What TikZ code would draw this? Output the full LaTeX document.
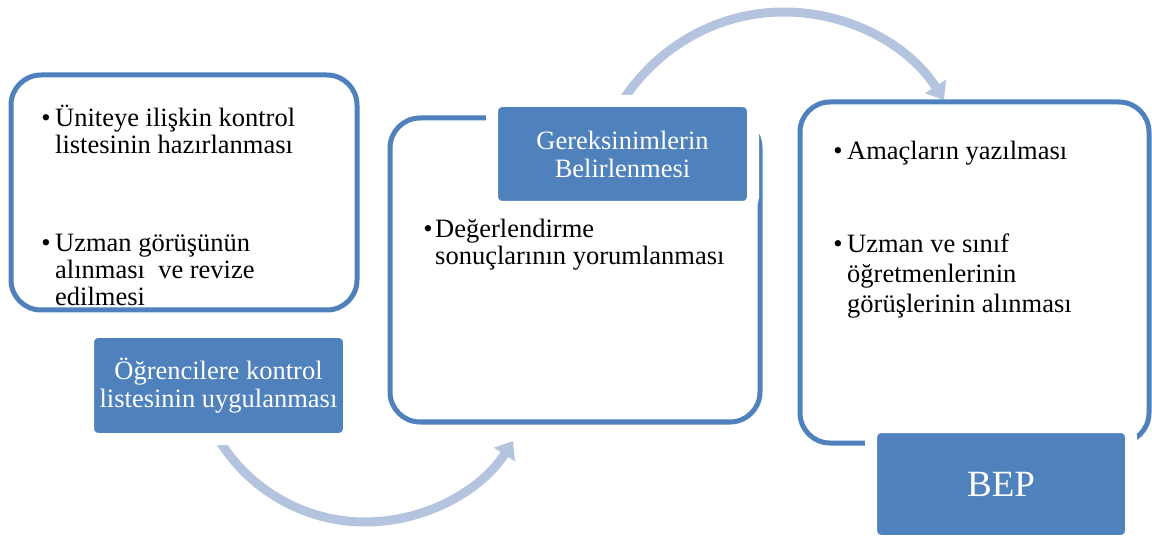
\documentclass[tikz,border=0pt]{standalone}
\usepackage{fontspec}
\setmainfont{Liberation Serif}
\usetikzlibrary{arrows.meta,backgrounds}
\definecolor{accent}{RGB}{79,129,189}
\definecolor{arrowc}{RGB}{180,195,222}
\newcommand{\itemlines}[1]{\vtop{\halign{##\hfil\cr#1\crcr}}}
\begin{document}
\begin{tikzpicture}[x=1pt,y=-1pt,
  outline/.style={draw=accent,line width=5pt,rounded corners=30pt,inner sep=0pt,outer sep=0pt},
  bluebox/.style={fill=accent,draw=white,line width=12pt,rounded corners=10pt,text=white,align=center,inner sep=0pt,outer sep=0pt,font=\fontsize{26.5}{28}\selectfont},
  itemtext/.style={anchor=base west,inner sep=0pt,font=\fontsize{26.5}{27}\selectfont},
  itemtextwide/.style={itemtext,font=\fontsize{26.5}{30}\selectfont},
  bul/.style={anchor=base,inner sep=0pt,font=\fontsize{26.5}{27}\selectfont},
  flow/.style={draw=arrowc,line width=9pt,-{Triangle[width=24pt,length=16pt]}}
]
\useasboundingbox (0,0) rectangle (1152,537);

% outline panels
\node[outline,minimum width=346pt,minimum height=235pt] (p1) at (184,192.5) {};
\node[outline,minimum width=370pt,minimum height=304pt] (p2) at (575,270) {};
\node[outline,minimum width=349pt,minimum height=341pt] (p3) at (974.5,272.5) {};

% blue title boxes
\node[bluebox,minimum width=261pt,minimum height=107pt] (o) at (218.5,385.5) {Öğrencilere kontrol\\listesinin uygulanması};
\node[bluebox,minimum width=261pt,minimum height=106pt] (g) at (622.5,154) {Gereksinimlerin\\Belirlenmesi};
\node[bluebox,minimum width=260pt,minimum height=114pt,font=\fontsize{37}{40}\selectfont] (b) at (1001,484) {BEP};

% bullet texts
\node[bul] (b1a) at (46,127) {•};
\node[itemtext] (t1a) at (55,127) {\itemlines{Üniteye ilişkin kontrol\cr listesinin hazırlanması}};
\node[bul] (b1b) at (46,252) {•};
\node[itemtext] (t1b) at (55,252) {\itemlines{Uzman görüşünün\cr alınması\ \ ve revize\cr edilmesi}};

\node[bul] (b2a) at (428,238) {•};
\node[itemtext] (t2a) at (435,238) {\itemlines{Değerlendirme\cr sonuçlarının yorumlanması}};

\node[bul] (b3a) at (838,160) {•};
\node[itemtext] (t3a) at (847,160) {\itemlines{Amaçların yazılması}};
\node[bul] (b3b) at (838,253) {•};
\node[itemtextwide] (t3b) at (847,253) {\itemlines{Uzman ve sınıf\cr öğretmenlerinin\cr görüşlerinin alınması}};

% arrows
\coordinate (a1e) at (513,441);
\coordinate (a2e) at (944,100);
\begin{scope}[on background layer]
\draw[flow] (o.south) .. controls (249,490) and (305,522) .. (365,522) .. controls (425,522) and (481,491) .. (a1e);
\draw[flow] (g.north) .. controls (659,45) and (719,12) .. (784,12) .. controls (849,12) and (909,45) .. (a2e);
\end{scope}
\end{tikzpicture}
\end{document}
